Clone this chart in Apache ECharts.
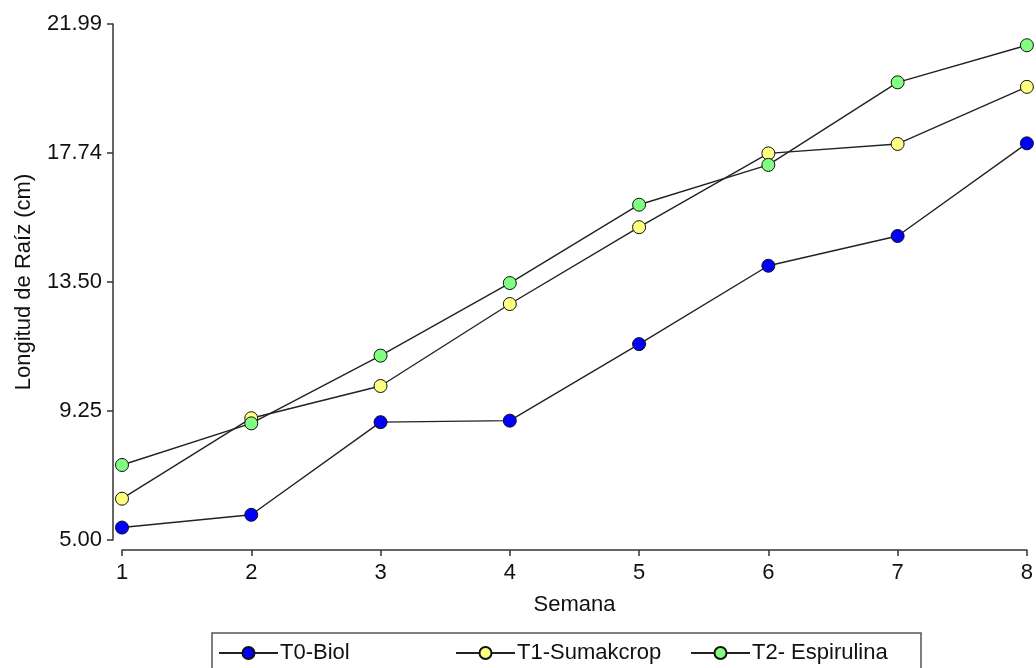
<!DOCTYPE html>
<html>
<head>
<meta charset="utf-8">
<script src="https://cdn.jsdelivr.net/npm/echarts@6/dist/echarts.min.js"></script>
<style>
html,body{margin:0;padding:0;background:#fff;}
#chart{width:1036px;height:668px;}
</style>
</head>
<body>
<div id="chart"></div>
<script>
const weeks = [1, 2, 3, 4, 5, 6, 7, 8];
const seriesNames = ['T0-Biol', 'T1-Sumakcrop', 'T2- Espirulina'];
const t0Biol = [5.41, 5.83, 8.88, 8.93, 11.45, 14.03, 15.01, 18.06];
const t1Sumakcrop = [6.36, 9.01, 10.07, 12.77, 15.30, 17.73, 18.04, 19.92];
const t2Espirulina = [7.47, 8.84, 11.07, 13.46, 16.04, 17.35, 20.07, 21.29];
const yTickValues = [5.00, 9.2475, 13.495, 17.7425, 21.99];
const yTickLabels = ['5.00', '9.25', '13.50', '17.74', '21.99'];
const xTickLabels = ['1', '2', '3', '4', '5', '6', '7', '8'];
const colors = ['#0000ff', '#ffff80', '#80ff80'];

const font = "'Liberation Sans', Arial, sans-serif";
const values = [t0Biol, t1Sumakcrop, t2Espirulina];

const chart = echarts.init(document.getElementById('chart'), null, {renderer: 'canvas'});

function pairs(arr) { return weeks.map((w, i) => [w, arr[i]]); }

const legendLefts = [218, 455, 690];

const option = {
  animation: false,
  backgroundColor: '#ffffff',
  grid: {left: 122, right: 6, top: 24, bottom: 128, containLabel: false},
  xAxis: {
    type: 'value', min: 1, max: 8, interval: 1, offset: 10,
    name: 'Semana', nameLocation: 'middle', nameGap: 44,
    nameTextStyle: {fontFamily: font, fontSize: 22, color: '#111'},
    axisLine: {show: true, lineStyle: {color: '#333', width: 1.5}},
    axisTick: {show: true, length: 6, inside: false, lineStyle: {color: '#333', width: 1.5}},
    axisLabel: {fontFamily: font, fontSize: 22, color: '#111', margin: 12,
      formatter: v => xTickLabels[weeks.indexOf(Math.round(v))] || ''},
    splitLine: {show: false}
  },
  yAxis: {
    type: 'value', min: 5, max: 21.99, offset: 9,
    name: 'Longitud de Raíz (cm)', nameLocation: 'middle', nameGap: 78,
    nameTextStyle: {fontFamily: font, fontSize: 22, color: '#111'},
    axisLine: {show: true, lineStyle: {color: '#333', width: 1.5}},
    axisTick: {show: true, length: 6, customValues: yTickValues, lineStyle: {color: '#333', width: 1.5}},
    axisLabel: {fontFamily: font, fontSize: 22, color: '#111', margin: 11,
      customValues: yTickValues,
      formatter: v => {
        let best = 0, d = Infinity;
        yTickValues.forEach((t, i) => { if (Math.abs(t - v) < d) { d = Math.abs(t - v); best = i; } });
        return yTickLabels[best];
      }},
    splitLine: {show: false}
  },
  legend: seriesNames.map((n, i) => ({
    data: [n], left: legendLefts[i], top: 642, padding: 0,
    itemWidth: 59, itemHeight: 15, itemGap: 0,
    textStyle: {fontFamily: font, fontSize: 22, color: '#111', padding: [0, 0, 0, -3]}
  })),
  graphic: [{
    type: 'rect', silent: true,
    shape: {x: 212, y: 633, width: 709, height: 60},
    style: {fill: 'none', stroke: '#555', lineWidth: 1.5}
  }],
  series: seriesNames.map((n, i) => ({
    name: n, type: 'line', data: pairs(values[i]),
    symbol: 'circle', symbolSize: 13,
    clip: false,
    lineStyle: {color: '#222', width: 1.4},
    itemStyle: {color: colors[i], borderColor: '#111', borderWidth: 1}
  }))
};
chart.setOption(option);
</script>
</body>
</html>
